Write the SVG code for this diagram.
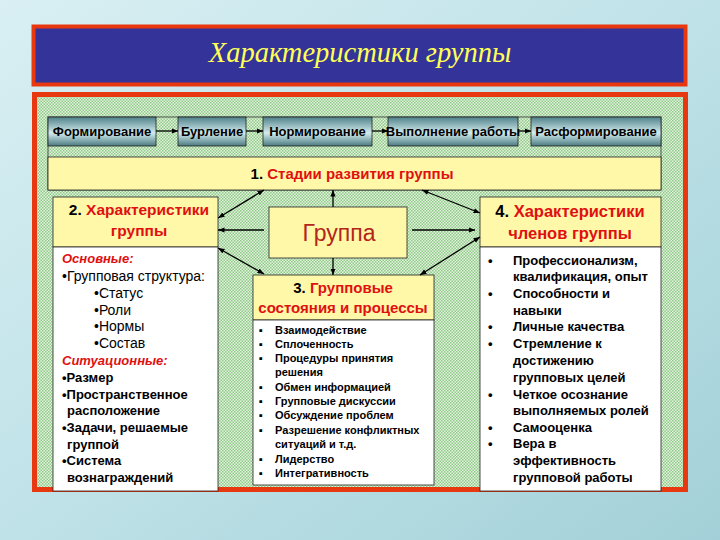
<svg xmlns="http://www.w3.org/2000/svg" width="720" height="540" viewBox="0 0 720 540">
<defs>
<linearGradient id="bg" x1="0" y1="0" x2="1" y2="1">
<stop offset="0" stop-color="#d9eff3"/>
<stop offset="0.5" stop-color="#bfe2e8"/>
<stop offset="1" stop-color="#a3d0d8"/>
</linearGradient>
<linearGradient id="stage" x1="0" y1="0" x2="0" y2="1">
<stop offset="0" stop-color="#4f8189"/>
<stop offset="0.55" stop-color="#d3ecee"/>
<stop offset="1" stop-color="#4a7a80"/>
</linearGradient>
<pattern id="hatch" width="3" height="3" patternUnits="userSpaceOnUse">
<rect width="3" height="3" fill="#e4f4dc"/>
<rect width="1.5" height="1.5" fill="#8fc98a"/>
<rect x="1.5" y="1.5" width="1.5" height="1.5" fill="#8fc98a"/>
</pattern>
<marker id="ah" viewBox="0 0 10 10" refX="10" refY="5" markerWidth="5" markerHeight="5" orient="auto-start-reverse">
<path d="M0,1 L10,5 L0,9 z" fill="#000"/>
</marker>
<style>
.stg{fill:url(#stage);stroke:#222;stroke-width:0.8}
.stt{font-family:"Liberation Sans",Arial,sans-serif;font-weight:bold;font-size:13px;fill:#000;text-anchor:middle}
.yl{fill:#fff8a8;stroke:#222;stroke-width:0.8}
.wb{fill:#fff;stroke:#222;stroke-width:0.8}
.hd{font-family:"Liberation Sans",Arial,sans-serif;font-weight:bold;fill:#e01010;text-anchor:middle}
.num{fill:#000}
.it{font-family:"Liberation Sans",Arial,sans-serif;font-weight:bold;font-style:italic;font-size:13px;fill:#e01010}
.tx{font-family:"Liberation Sans",Arial,sans-serif;font-size:14px;fill:#000}
.tb{font-family:"Liberation Sans",Arial,sans-serif;font-weight:bold;font-size:13px;fill:#000}
.t3{font-family:"Liberation Sans",Arial,sans-serif;font-weight:bold;font-size:11px;fill:#000}
.t4{font-family:"Liberation Sans",Arial,sans-serif;font-weight:bold;font-size:13px;fill:#000}
.cn{stroke:#000;stroke-width:1.3;fill:none}
</style>
</defs>
<rect width="720" height="540" fill="url(#bg)"/>
<g id="title">
<rect x="33.5" y="26.5" width="652" height="58" fill="#333399" stroke="#e8380f" stroke-width="4"/>
<text x="360" y="62" font-family="'Liberation Serif','DejaVu Serif',serif" font-style="italic" font-size="28.5" fill="#ffff55" text-anchor="middle">Характеристики группы</text>
</g>
<g id="panel">
<rect x="34.5" y="94.5" width="651" height="395" fill="url(#hatch)" stroke="#e8380f" stroke-width="5"/>
</g>
<g id="stages-frame">
<rect x="48" y="117" width="613" height="73" fill="none" stroke="#333" stroke-width="0.8"/>
</g>
<g id="stage1"><rect class="stg" x="48" y="117" width="108" height="29"/><text class="stt" x="102" y="136">Формирование</text></g>
<g id="stage2"><rect class="stg" x="178" y="117" width="68" height="29"/><text class="stt" x="212" y="136">Бурление</text></g>
<g id="stage3"><rect class="stg" x="263" y="117" width="109" height="29"/><text class="stt" x="317.5" y="136">Нормирование</text></g>
<g id="stage4"><rect class="stg" x="388" y="117" width="130" height="29"/><text class="stt" x="453" y="136">Выполнение работы</text></g>
<g id="stage5"><rect class="stg" x="531" y="117" width="130" height="29"/><text class="stt" x="596" y="136">Расформирование</text></g>
<g id="bar1">
<rect class="yl" x="48" y="157" width="613" height="33"/>
<text class="hd" x="352" y="179" font-size="15"><tspan class="num">1. </tspan>Стадии развития группы</text>
</g>
<g id="box2">
<rect class="yl" x="53" y="197" width="165" height="50"/>
<rect class="wb" x="53" y="247" width="165" height="244"/>
<text class="hd" x="139" y="215" font-size="15.5"><tspan class="num">2. </tspan>Характеристики</text>
<text class="hd" x="139" y="236" font-size="15.5">группы</text>
<text class="it" x="62" y="263">Основные:</text>
<text class="tx" x="62" y="281">•Групповая структура:</text>
<text class="tx" x="94" y="298">•Статус</text>
<text class="tx" x="94" y="315">•Роли</text>
<text class="tx" x="94" y="331">•Нормы</text>
<text class="tx" x="94" y="348">•Состав</text>
<text class="it" x="62" y="365">Ситуационные:</text>
<text class="tb" x="62" y="382">•Размер</text>
<text class="tb" x="62" y="399">•Пространственное</text>
<text class="tb" x="67" y="415">расположение</text>
<text class="tb" x="62" y="432">•Задачи, решаемые</text>
<text class="tb" x="67" y="449">группой</text>
<text class="tb" x="62" y="465">•Система</text>
<text class="tb" x="67" y="482">вознаграждений</text>
</g>
<g id="group">
<rect class="yl" x="269" y="207" width="138" height="51"/>
<text x="339" y="241" font-family="'Liberation Sans',Arial,sans-serif" font-size="23" fill="#b3261a" text-anchor="middle">Группа</text>
</g>
<g id="box3">
<rect class="yl" x="253" y="275" width="181" height="45"/>
<rect class="wb" x="253" y="320" width="181" height="165"/>
<text class="hd" x="343" y="293" font-size="15"><tspan class="num">3. </tspan>Групповые</text>
<text class="hd" x="343" y="313" font-size="15">состояния и процессы</text>
<g class="t3">
<text x="259" y="334">▪</text><text x="275" y="334">Взаимодействие</text>
<text x="259" y="348">▪</text><text x="275" y="348">Сплоченность</text>
<text x="259" y="362">▪</text><text x="275" y="362">Процедуры принятия</text>
<text x="275" y="376">решения</text>
<text x="259" y="391">▪</text><text x="275" y="391">Обмен информацией</text>
<text x="259" y="405">▪</text><text x="275" y="405">Групповые дискуссии</text>
<text x="259" y="419">▪</text><text x="275" y="419">Обсуждение проблем</text>
<text x="259" y="434">▪</text><text x="275" y="434">Разрешение конфликтных</text>
<text x="275" y="448">ситуаций и т.д.</text>
<text x="259" y="463">▪</text><text x="275" y="463">Лидерство</text>
<text x="259" y="477">▪</text><text x="275" y="477">Интегративность</text>
</g>
</g>
<g id="box4">
<rect class="yl" x="480" y="197" width="181" height="50"/>
<rect class="wb" x="480" y="247" width="181" height="244"/>
<text class="hd" x="570" y="217" font-size="16.5"><tspan class="num">4. </tspan>Характеристики</text>
<text class="hd" x="570" y="239" font-size="16.5">членов группы</text>
<g class="t4">
<text x="488" y="265">•</text><text x="513" y="265">Профессионализм,</text>
<text x="513" y="281">квалификация, опыт</text>
<text x="488" y="298">•</text><text x="513" y="298">Способности и</text>
<text x="513" y="315">навыки</text>
<text x="488" y="331">•</text><text x="513" y="331">Личные качества</text>
<text x="488" y="348">•</text><text x="513" y="348">Стремление к</text>
<text x="513" y="365">достижению</text>
<text x="513" y="382">групповых целей</text>
<text x="488" y="399">•</text><text x="513" y="399">Четкое осознание</text>
<text x="513" y="415">выполняемых ролей</text>
<text x="488" y="432">•</text><text x="513" y="432">Самооценка</text>
<text x="488" y="448">•</text><text x="513" y="448">Вера в</text>
<text x="513" y="465">эффективность</text>
<text x="513" y="482">групповой работы</text>
</g>
</g>
<g id="connectors">
<line class="cn" x1="156" y1="131" x2="178" y2="131" marker-end="url(#ah)"/>
<line class="cn" x1="246" y1="131" x2="263" y2="131" marker-end="url(#ah)"/>
<line class="cn" x1="372" y1="131" x2="388" y2="131" marker-end="url(#ah)"/>
<line class="cn" x1="518" y1="131" x2="531" y2="131" marker-end="url(#ah)"/>
<line class="cn" x1="333" y1="207" x2="333" y2="190" marker-end="url(#ah)"/>
<line class="cn" x1="333" y1="258" x2="333" y2="275" marker-end="url(#ah)"/>
<line class="cn" x1="218" y1="218" x2="264" y2="190" marker-start="url(#ah)" marker-end="url(#ah)"/>
<line class="cn" x1="264" y1="230" x2="218" y2="230" marker-end="url(#ah)"/>
<line class="cn" x1="218" y1="248" x2="264" y2="274" marker-start="url(#ah)" marker-end="url(#ah)"/>
<line class="cn" x1="422" y1="190" x2="480" y2="213" marker-start="url(#ah)" marker-end="url(#ah)"/>
<line class="cn" x1="412" y1="230" x2="475" y2="230" marker-end="url(#ah)"/>
<line class="cn" x1="480" y1="237" x2="420" y2="275" marker-start="url(#ah)" marker-end="url(#ah)"/>
</g>
</svg>
